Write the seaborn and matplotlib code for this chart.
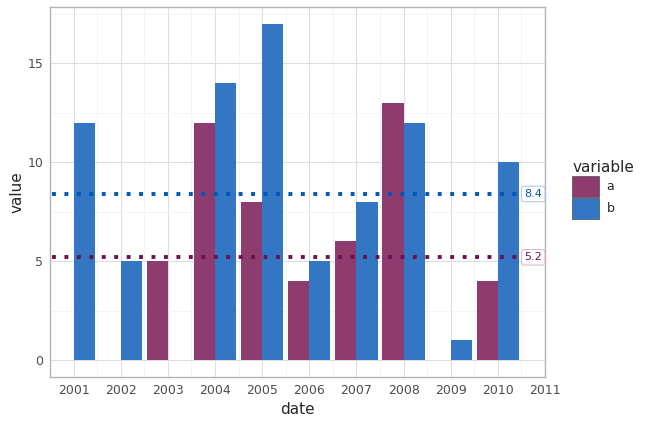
import pandas as pd
import numpy as np
import matplotlib
matplotlib.use('Agg')
import matplotlib.pyplot as plt
import seaborn as sns

# data
years = [2001, 2002, 2003, 2004, 2005, 2006, 2007, 2008, 2009, 2010]
a_vals = [0, 0, 5, 12, 8, 4, 6, 13, 0, 4]
b_vals = [12, 5, 0, 14, 17, 5, 8, 12, 1, 10]
x_ticks = [2001, 2002, 2003, 2004, 2005, 2006, 2007, 2008, 2009, 2010, 2011]
y_ticks = [0, 5, 10, 15]

df = pd.DataFrame({'date': years * 2,
                   'value': a_vals + b_vals,
                   'variable': ['a'] * len(years) + ['b'] * len(years)})
means = df.groupby('variable')['value'].mean()

bar_colors = {'a': '#8e3c70', 'b': '#3376c3'}
line_colors = {'a': '#6e0f50', 'b': '#0057b5'}
box_edges = {'a': '#e2b8d2', 'b': '#b6cdea'}

sns.set_style('white')
plt.rcParams['font.family'] = ['DejaVu Sans']

fig = plt.figure(figsize=(6.51, 4.24), dpi=100)
ax = fig.add_axes([50/651, 1 - 377/424, (545-50)/651, (377-7)/424])

sns.barplot(data=df, x='date', y='value', hue='variable', hue_order=['a', 'b'],
            palette=bar_colors, native_scale=True, width=0.9, saturation=1,
            dodge=True, ax=ax, legend=True, linewidth=0)

x0, x1 = 2000.535, 2011.0
ax.set_xlim(x0, x1)
ax.set_ylim(-0.85, 17.85)

for var in ['a', 'b']:
    m = means[var]
    ax.plot([x0, 2010.47], [m, m], linestyle=(0, (1, 2.2)), linewidth=2.8,
            color=line_colors[var], zorder=3)
    ax.text(2010.75, m, f'{m:.1f}', ha='center', va='center', fontsize=8,
            color=line_colors[var], zorder=4,
            bbox=dict(boxstyle='round,pad=0.25', fc='white', ec=box_edges[var], lw=0.8))

ax.set_xticks(x_ticks)
ax.set_xticklabels([str(t) for t in x_ticks])
ax.set_yticks(y_ticks)
ax.set_xticks(np.arange(2000.5, 2011, 1.0), minor=True)
ax.set_yticks([2.5, 7.5, 12.5, 17.5], minor=True)
ax.grid(True, which='major', color='#dedede', linewidth=0.8)
ax.grid(True, which='minor', color='#f2f2f2', linewidth=0.6)
ax.set_axisbelow(True)
ax.tick_params(axis='both', which='major', length=3, color='#b0b0b0',
               labelsize=9, labelcolor='#4d4d4d', pad=2)
ax.tick_params(axis='both', which='minor', length=0)
for s in ax.spines.values():
    s.set_color('#b3b3b3')
    s.set_linewidth(1.0)

ax.set_xlabel('date', fontsize=11)
ax.set_ylabel('value', fontsize=11, labelpad=2)

handles, labels = ax.get_legend_handles_labels()
for h in handles:
    h.set_edgecolor('#333333')
    h.set_linewidth(0.4)
leg = ax.legend(handles, labels, title='variable', loc='upper left',
                bbox_to_anchor=(1.045, 0.6), frameon=False, fontsize=9,
                title_fontsize=11, handlelength=2.15, handleheight=2.15,
                alignment='left', borderaxespad=0, labelspacing=0.1,
                handletextpad=0.6)

fig.savefig('out.png', dpi=100)
